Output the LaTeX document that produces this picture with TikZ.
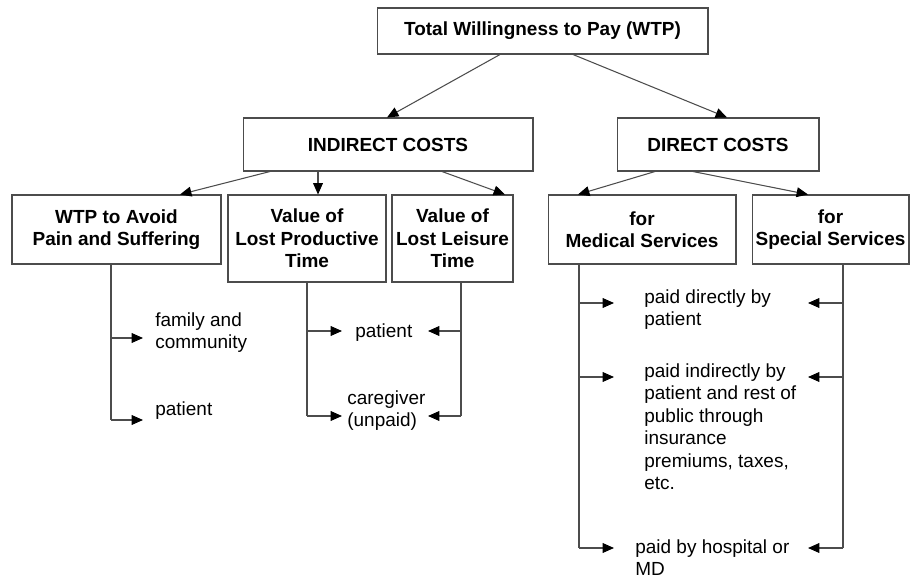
\documentclass[tikz,border=0pt]{standalone}
\usepackage{fontspec}
\setmainfont{Liberation Sans}
\usetikzlibrary{arrows.meta,calc}

\begin{document}
\begin{tikzpicture}[x=0.02cm, y=-0.02cm,
  box/.style={draw=black!70, line width=0.6pt, shape=rectangle, align=center, inner sep=0pt, font=\fontsize{10.8}{12.8}\selectfont\bfseries},
  leaf/.style={anchor=north west, align=left, inner sep=0pt, font=\fontsize{10.8}{12.8}\selectfont, execute at begin node=\strut},
  trunk/.style={draw=black!70, line width=0.6pt},
  link/.style={trunk, -{Triangle[length=6.5pt, width=5.6pt, color=black]}}]
\useasboundingbox (0,0) rectangle (911,580);

% boxes
\node[box, minimum width=6.62cm, minimum height=0.92cm] (wtp) at (542.5,31) {Total Willingness to Pay (WTP)};
\node[box, minimum width=5.8cm, minimum height=1.06cm] (indirect) at (388,144.5) {INDIRECT COSTS};
\node[box, minimum width=4.04cm, minimum height=1.06cm] (direct) at (718,144.5) {DIRECT COSTS};
\node[box, minimum width=4.18cm, minimum height=1.38cm] (avoid) at (116.5,229.5) {WTP to Avoid\\Pain and Suffering};
\node[box, minimum width=3.16cm, minimum height=1.74cm] (productive) at (307,238.5) {Value of\\Lost Productive\\Time};
\node[box, minimum width=2.42cm, minimum height=1.74cm] (leisure) at (452.5,238.5) {Value of\\Lost Leisure\\Time};
\node[box, minimum width=3.76cm, minimum height=1.38cm] (medical) at (642,229.5) {for\\Medical Services};
\node[box, minimum width=3.14cm, minimum height=1.38cm] (special) at (830.5,229.5) {for\\Special Services};

% who pays
\node[leaf] (family) at (155,312) {family and\\community};
\node[leaf] (patavoid) at (155,399) {patient};
\node[leaf] (pattime) at (355,321) {patient};
\node[leaf] (caregiver) at (347,390) {caregiver\\(unpaid)};
\node[leaf] (paydirect) at (644,289) {paid directly by\\patient};
\node[leaf] (payindirect) at (644,363) {paid indirectly by\\patient and rest of\\public through\\insurance\\premiums, taxes,\\etc.};
\node[leaf] (payhospital) at (635,539) {paid by hospital or\\MD};

% top levels
\draw[link] ($(wtp.south)+(-42.5,0)$) -- ($(indirect.north)+(-1,0)$);
\draw[link] ($(wtp.south)+(30.5,0)$) -- ($(direct.north)+(9,0)$);
\draw[link] ($(indirect.south)+(-118,0)$) -- ($(avoid.north)+(63.5,0)$);
\draw[link] ($(indirect.south)+(-70,0)$) -- ($(productive.north)+(11,0)$);
\draw[link] ($(indirect.south)+(54,0)$) -- ($(leisure.north)+(52.5,0)$);
\draw[link] ($(direct.south)+(-63,0)$) -- ($(medical.north)+(-64,0)$);
\draw[link] ($(direct.south)+(-25,0)$) -- ($(special.north)+(-22.5,0)$);

% pain and suffering
\coordinate (avoidend) at (111,420);
\coordinate (famtip) at (143,338);
\coordinate (avoidtip) at (143,420);
\draw[trunk] (avoid.south -| avoidend) -- (avoidend);
\draw[link] (avoidend |- famtip) -- (famtip);
\draw[link] (avoidend) -- (avoidtip);

% lost time
\coordinate (prodend) at (307,416);
\coordinate (prodtipa) at (342,331);
\coordinate (prodtipb) at (342,416);
\draw[trunk] (productive.south -| prodend) -- (prodend);
\draw[link] (prodend |- prodtipa) -- (prodtipa);
\draw[link] (prodend) -- (prodtipb);
\coordinate (leisend) at (461,416);
\coordinate (leistipa) at (428,331);
\coordinate (leistipb) at (428,416);
\draw[trunk] (leisure.south -| leisend) -- (leisend);
\draw[link] (leisend |- leistipa) -- (leistipa);
\draw[link] (leisend) -- (leistipb);

% services
\coordinate (medend) at (579,548);
\coordinate (medtipa) at (614,303);
\coordinate (medtipb) at (614,377);
\coordinate (medtipc) at (614,548);
\draw[trunk] (medical.south -| medend) -- (medend);
\draw[link] (medend |- medtipa) -- (medtipa);
\draw[link] (medend |- medtipb) -- (medtipb);
\draw[link] (medend) -- (medtipc);
\coordinate (specend) at (843,548);
\coordinate (spectipa) at (808,303);
\coordinate (spectipb) at (808,377);
\coordinate (spectipc) at (808,548);
\draw[trunk] (special.south -| specend) -- (specend);
\draw[link] (specend |- spectipa) -- (spectipa);
\draw[link] (specend |- spectipb) -- (spectipb);
\draw[link] (specend) -- (spectipc);
\end{tikzpicture}
\end{document}
